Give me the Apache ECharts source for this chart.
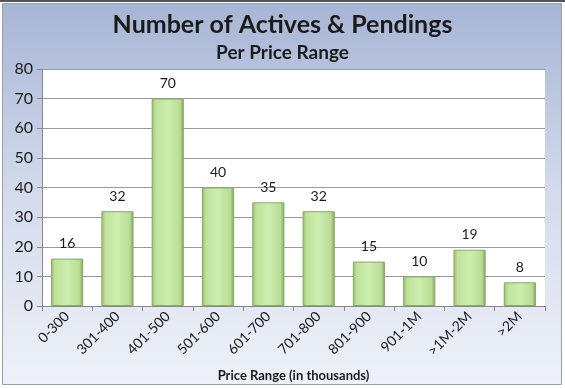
<!DOCTYPE html>
<html><head><meta charset="utf-8">
<script src="https://cdn.jsdelivr.net/npm/echarts@6/dist/echarts.min.js"></script>
<style>html,body{margin:0;padding:0;background:#fff}#c{width:565px;height:388px}</style>
</head><body><div id="c"></div>
<script>
const categories = ['0-300','301-400','401-500','501-600','601-700','701-800','801-900','901-1M','>1M-2M','>2M'];
const values = [16,32,70,40,35,32,15,10,19,8];
const yTicks = [0,10,20,30,40,50,60,70,80];
const font = 'Lato';
const chart = echarts.init(document.getElementById('c'));
chart.setOption({
  animation:false,
  backgroundColor:'#fff',
  graphic:[
    {type:'rect',z:-10,shape:{x:0,y:0,width:565,height:2},style:{fill:'#555'}},
    {type:'rect',z:-10,shape:{x:2.5,y:3.5,width:559,height:381},style:{
      fill:new echarts.graphic.LinearGradient(0,0,0,1,[{offset:0,color:'#a7b5d5'},{offset:0.5,color:'#d3dbec'},{offset:1,color:'#eef1f8'}]),
      stroke:'#9aa0aa',lineWidth:1}},
    {type:'rect',z:-9,shape:{x:42,y:69,width:503,height:237},style:{fill:'#fff'}}
  ],
  title:[
    {text:'Number of Actives & Pendings',left:'center',top:7,textStyle:{fontFamily:font,fontSize:25,fontWeight:'bold',color:'#1a1a1a'}},
    {text:'Per Price Range',left:'center',top:38,textStyle:{fontFamily:font,fontSize:19,fontWeight:'bold',color:'#1a1a1a'}}
  ],
  grid:{left:42,right:20,top:69,bottom:82,containLabel:false},
  xAxis:{type:'category',data:categories,
    name:'Price Range (in thousands)',nameLocation:'middle',nameGap:63,
    nameTextStyle:{fontFamily:font,fontSize:13,fontWeight:'bold',color:'#1a1a1a'},
    axisLine:{lineStyle:{color:'#888'}},
    axisTick:{show:true,alignWithLabel:false,length:5,lineStyle:{color:'#888'}},
    axisLabel:{rotate:45,fontFamily:font,fontSize:14,color:'#1a1a1a',margin:8,interval:0}},
  yAxis:{type:'value',min:0,max:80,interval:10,
    axisLine:{show:true,lineStyle:{color:'#888'}},
    axisTick:{show:true,length:5,lineStyle:{color:'#888'}},
    splitLine:{lineStyle:{color:'#999'}},
    axisLabel:{fontFamily:font,fontSize:16,color:'#1a1a1a',margin:9,
      formatter:v=>yTicks.includes(v)?String(v):''}},
  series:[{type:'bar',data:values,barCategoryGap:'36%',
    itemStyle:{color:new echarts.graphic.LinearGradient(0,0,1,0,[
      {offset:0,color:'#93b86d'},{offset:0.12,color:'#bfe29a'},{offset:0.5,color:'#cdeeb0'},{offset:0.88,color:'#b9dc94'},{offset:1,color:'#7fa35a'}]),
      borderColor:'#8aa96a',borderWidth:1},
    label:{show:true,position:'top',distance:8,fontFamily:font,fontSize:14,color:'#1a1a1a'}}]
});
</script></body></html>
